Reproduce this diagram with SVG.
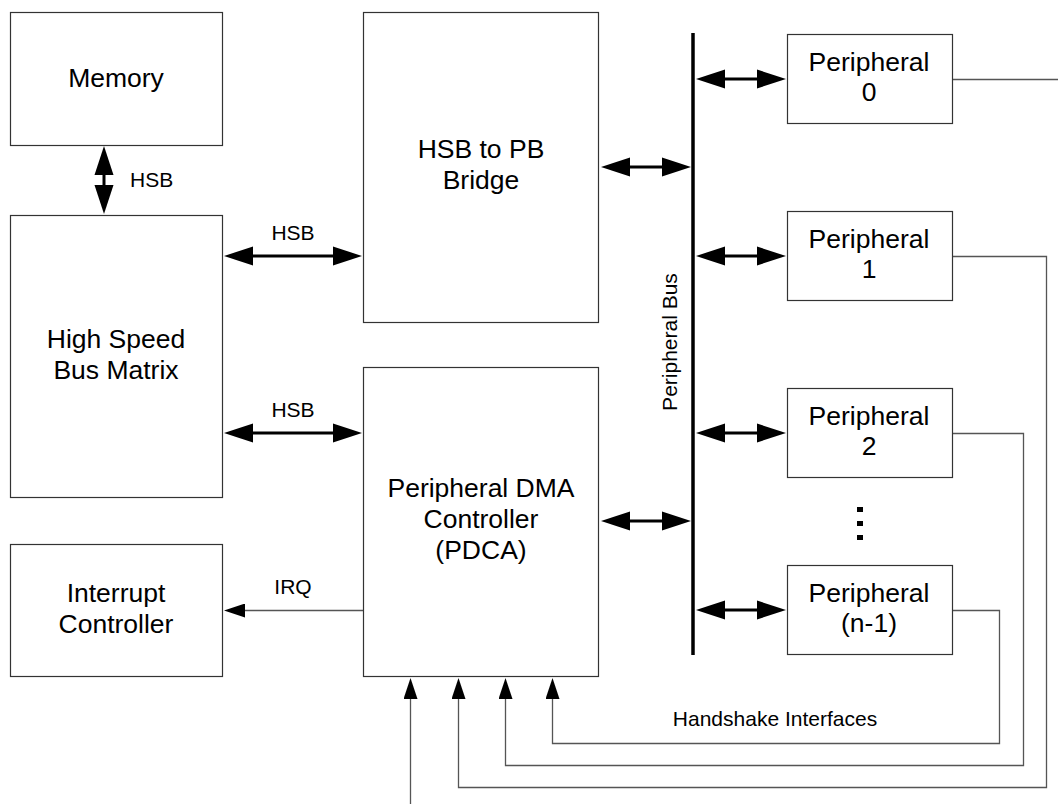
<svg xmlns="http://www.w3.org/2000/svg" width="1058" height="804" viewBox="0 0 1058 804">
<style>
.box{fill:#fff;stroke:#333;stroke-width:1.2}
.lbl{font-family:"Liberation Sans",Arial,sans-serif;font-size:26.5px;fill:#000;text-anchor:middle}
.sm{font-family:"Liberation Sans",Arial,sans-serif;font-size:21px;fill:#000}
.thick{stroke:#000;stroke-width:3;fill:none;marker-start:url(#big);marker-end:url(#big)}
.thin{stroke:#555;stroke-width:1.3;fill:none}
.sig{stroke:#555;stroke-width:1.3;fill:none;marker-end:url(#small)}
</style>
<defs>
<marker id="big" markerUnits="userSpaceOnUse" markerWidth="30" markerHeight="20" refX="1" refY="9.5" orient="auto-start-reverse" viewBox="0 0 30 19">
<path d="M0,0 L29,9.5 L0,19 Z" fill="#000"/>
</marker>
<marker id="small" markerUnits="userSpaceOnUse" markerWidth="22" markerHeight="14" refX="1" refY="7" orient="auto" viewBox="0 0 22 14">
<path d="M0,0 L21,7 L0,14 Z" fill="#000"/>
</marker>
</defs>
<rect width="1058" height="804" fill="#fff"/>

<g id="connectors">
<line class="thick" x1="104" y1="174" x2="104" y2="186"/>
<line class="thick" x1="252" y1="256" x2="334" y2="256"/>
<line class="thick" x1="252" y1="433" x2="334" y2="433"/>
<line class="thick" x1="629" y1="167" x2="663" y2="167"/>
<line class="thick" x1="629" y1="521" x2="663" y2="521"/>
<line class="thick" x1="724" y1="79" x2="758" y2="79"/>
<line class="thick" x1="724" y1="256" x2="758" y2="256"/>
<line class="thick" x1="724" y1="433" x2="758" y2="433"/>
<line class="thick" x1="724" y1="610" x2="758" y2="610"/>
<line x1="693" y1="33" x2="693" y2="655" stroke="#000" stroke-width="3.5"/>
<line class="sig" x1="364" y1="610.5" x2="244" y2="610.5"/>
<line class="sig" x1="410.5" y1="804" x2="410.5" y2="698"/>
<polyline class="sig" points="952,256.5 1046.5,256.5 1046.5,787.5 458.5,787.5 458.5,698"/>
<polyline class="sig" points="952,433.5 1023.5,433.5 1023.5,765.5 505.5,765.5 505.5,698"/>
<polyline class="sig" points="952,610.5 999.5,610.5 999.5,743.5 552.5,743.5 552.5,698"/>
<line class="thin" x1="952" y1="79.5" x2="1058" y2="79.5"/>
<text class="sm" x="130" y="187">HSB</text>
<text class="sm" x="293" y="240" text-anchor="middle">HSB</text>
<text class="sm" x="293" y="417" text-anchor="middle">HSB</text>
<text class="sm" x="293" y="594" text-anchor="middle">IRQ</text>
<text class="sm" x="775" y="726" text-anchor="middle">Handshake Interfaces</text>
<text class="sm" text-anchor="middle" transform="translate(677,342) rotate(-90)">Peripheral Bus</text>
</g>

<g id="memory">
<rect class="box" x="10.5" y="12.5" width="212" height="133"/>
<text class="lbl" x="116" y="87">Memory</text>
</g>
<g id="bus-matrix">
<rect class="box" x="10.5" y="215.5" width="212" height="282"/>
<text class="lbl" x="116" y="348">High Speed<tspan x="116" dy="31">Bus Matrix</tspan></text>
</g>
<g id="bridge">
<rect class="box" x="363.5" y="12.5" width="235" height="310"/>
<text class="lbl" x="481" y="158">HSB to PB<tspan x="481" dy="31">Bridge</tspan></text>
</g>
<g id="pdca">
<rect class="box" x="363.5" y="367.5" width="235" height="309"/>
<text class="lbl" x="481" y="497">Peripheral DMA<tspan x="481" dy="31">Controller</tspan><tspan x="481" dy="31">(PDCA)</tspan></text>
</g>
<g id="interrupt">
<rect class="box" x="10.5" y="544.5" width="212" height="132"/>
<text class="lbl" x="116" y="602">Interrupt<tspan x="116" dy="31">Controller</tspan></text>
</g>
<g id="peripheral-0">
<rect class="box" x="787.5" y="34.5" width="165" height="89"/>
<text class="lbl" x="869" y="71">Peripheral<tspan x="869" dy="30">0</tspan></text>
</g>
<g id="peripheral-1">
<rect class="box" x="787.5" y="211.5" width="165" height="89"/>
<text class="lbl" x="869" y="248">Peripheral<tspan x="869" dy="30">1</tspan></text>
</g>
<g id="peripheral-2">
<rect class="box" x="787.5" y="388.5" width="165" height="89"/>
<text class="lbl" x="869" y="425">Peripheral<tspan x="869" dy="30">2</tspan></text>
</g>
<g id="ellipsis">
<rect x="857" y="507" width="6" height="5" fill="#000"/>
<rect x="857" y="521" width="6" height="5" fill="#000"/>
<rect x="857" y="535" width="6" height="5" fill="#000"/>
</g>
<g id="peripheral-n-1">
<rect class="box" x="787.5" y="565.5" width="165" height="89"/>
<text class="lbl" x="869" y="602">Peripheral<tspan x="869" dy="30">(n-1)</tspan></text>
</g>
</svg>
